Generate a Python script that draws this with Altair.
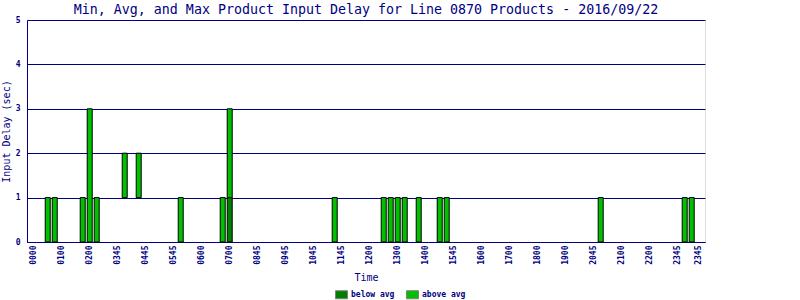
import altair as alt
import pandas as pd

# 15-minute slots (0 = 00:00 ... 95 = 23:45) that carry a bar
slots = [2, 3, 7, 8, 9, 13, 15, 21, 27, 28, 43, 50, 51, 52, 53, 55, 58, 59, 81, 93, 94]
min_delay = [0, 0, 0, 0, 0, 1, 1, 0, 0, 0, 0, 0, 0, 0, 0, 0, 0, 0, 0, 0, 0]
avg_delay = [0, 0, 0, 0, 0, 1, 1, 0, 0, 1, 0, 0, 0, 0, 0, 0, 0, 0, 0, 0, 0]
max_delay = [1, 1, 1, 3, 1, 2, 2, 1, 1, 3, 1, 1, 1, 1, 1, 1, 1, 1, 1, 1, 1]

tick_slots = [0, 4, 8, 12, 16, 20, 24, 28, 32, 36, 40, 44, 48, 52, 56, 60,
              64, 68, 72, 76, 80, 84, 88, 92, 95]
tick_labels = ["0000", "0100", "0200", "0345", "0445", "0545", "0600", "0700",
               "0845", "0945", "1045", "1145", "1200", "1300", "1400", "1545",
               "1600", "1700", "1800", "1900", "2045", "2100", "2200", "2345", "2345"]
y_ticks = [0, 1, 2, 3, 4, 5]

series = ["below avg", "above avg"]
colors = ["#008000", "#00c000"]

rows = []
for s, lo, av, hi in zip(slots, min_delay, avg_delay, max_delay):
    if av > lo:
        rows.append({"slot": s, "y0": lo, "y1": av, "series": series[0]})
    if hi > av:
        rows.append({"slot": s, "y0": av, "y1": hi, "series": series[1]})
df = pd.DataFrame(rows)

NAVY = "#000080"
FONT = "DejaVu Sans Mono"

label_expr = ("[" + ",".join(f"'{t}'" for t in tick_labels) + "][indexof(["
              + ",".join(str(v) for v in tick_slots) + "], datum.value)]")

chart = alt.Chart(df).mark_bar(size=5, stroke="black", strokeWidth=1).encode(
    x=alt.X(
        "slot:Q",
        scale=alt.Scale(domain=[-0.96, 95.9], nice=False, zero=False, padding=0),
        axis=alt.Axis(
            values=tick_slots, labelExpr=label_expr, labelAngle=270,
            labelAlign="right", labelBaseline="middle",
            grid=False, ticks=False, labelFlush=False, labelOverlap=False,
            labelPadding=3, labelFont=FONT, labelFontSize=8, labelFontWeight="bold",
            labelColor=NAVY, domainColor=NAVY,
            title="Time", titleFont=FONT, titleFontSize=10, titleFontWeight="normal",
            titleColor=NAVY, titlePadding=8,
        ),
    ),
    y=alt.Y(
        "y0:Q",
        scale=alt.Scale(domain=[0, 5], nice=False),
        axis=alt.Axis(
            values=y_ticks, grid=True, gridColor=NAVY, gridOpacity=1, gridWidth=1,
            ticks=False, labelPadding=7, labelFont=FONT, labelFontSize=8,
            labelFontWeight="bold", labelColor=NAVY, domainColor=NAVY,
            title="Input Delay (sec)", titleFont=FONT, titleFontSize=10,
            titleFontWeight="normal", titleColor=NAVY, titlePadding=4,
        ),
    ),
    y2="y1:Q",
    color=alt.Color(
        "series:N",
        scale=alt.Scale(domain=series, range=colors),
        legend=alt.Legend(
            title=None, orient="none", direction="horizontal",
            legendX=308, legendY=268,
            symbolType="M-1,-0.667H1V0.667H-1Z", symbolSize=144,
            symbolStrokeColor="#808080", symbolStrokeWidth=1, symbolOpacity=1,
            labelFont=FONT, labelFontSize=8, labelFontWeight="bold",
            labelColor=NAVY, labelOffset=3, columnPadding=9,
        ),
    ),
).properties(
    width=678,
    height=222,
    autosize="none",
    padding={"left": 27, "top": 20, "right": 95, "bottom": 58},
    title=alt.TitleParams(
        "Min, Avg, and Max Product Input Delay for Line 0870 Products - 2016/09/22",
        font=FONT, fontSize=13.3, fontWeight="normal", color=NAVY,
        anchor="middle", offset=0,
    ),
).configure_view(
    stroke=NAVY, strokeWidth=1
).configure(background="white")

chart.save("out.html", embed_options={"renderer": "svg", "actions": False})
